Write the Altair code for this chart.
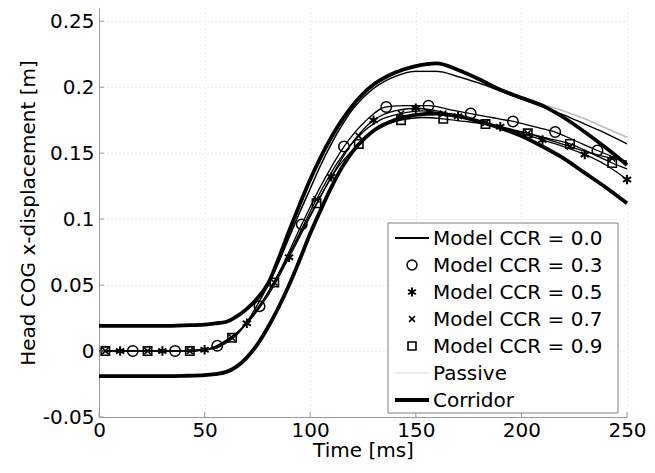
import altair as alt
import pandas as pd

# ---------------- data ----------------
T_GRID = [0, 10, 20, 30, 40, 50, 55, 60, 65, 70, 75, 80, 85, 90, 95, 100, 105, 110,
          115, 120, 125, 130, 140, 150, 160, 170, 180, 190, 200, 210, 220, 230, 240, 250]

CORR_UPPER = [0.019, 0.019, 0.019, 0.019, 0.0195, 0.020, 0.021, 0.022, 0.026, 0.032, 0.040,
              0.051, 0.070, 0.091, 0.111, 0.130, 0.147, 0.162, 0.175, 0.186, 0.195, 0.202,
              0.211, 0.216, 0.218, 0.213, 0.206, 0.198, 0.192, 0.186, 0.177, 0.166, 0.154, 0.141]
CORR_LOWER = [-0.019, -0.019, -0.019, -0.019, -0.0188, -0.0183, -0.0175, -0.016, -0.012,
              -0.005, 0.005, 0.018, 0.033, 0.050, 0.069, 0.089, 0.107, 0.124, 0.139, 0.151,
              0.160, 0.167, 0.175, 0.179, 0.180, 0.178, 0.174, 0.169, 0.163, 0.155, 0.146,
              0.135, 0.124, 0.112]
CCR00 = [0, 0, 0, 0, 0, 0.001, 0.002, 0.006, 0.012, 0.022, 0.035, 0.050, 0.067, 0.086, 0.105,
         0.123, 0.141, 0.157, 0.171, 0.183, 0.192, 0.199, 0.208, 0.212, 0.212, 0.208, 0.203,
         0.197, 0.191, 0.185, 0.179, 0.172, 0.165, 0.157]
PASSIVE = [0, 0, 0, 0, 0, 0.001, 0.002, 0.006, 0.012, 0.022, 0.035, 0.050, 0.067, 0.086, 0.105,
           0.123, 0.141, 0.157, 0.171, 0.183, 0.192, 0.199, 0.208, 0.212, 0.212, 0.208, 0.203,
           0.198, 0.192, 0.187, 0.182, 0.176, 0.169, 0.162]

T_03 = [0, 16, 36, 50, 56, 63, 70, 76, 86, 96, 106, 116, 126, 136, 146, 156, 166, 176, 186,
        196, 206, 216, 226, 236, 250]
Y_03 = [0, 0, 0, 0.001, 0.004, 0.011, 0.021, 0.034, 0.062, 0.096, 0.128, 0.155, 0.174, 0.185,
        0.186, 0.186, 0.183, 0.180, 0.177, 0.174, 0.170, 0.166, 0.159, 0.152, 0.143]
M_03 = [16, 36, 56, 76, 96, 116, 136, 156, 176, 196, 216, 236]

T_05 = [0, 10, 30, 50, 60, 70, 80, 90, 100, 110, 120, 130, 140, 150, 160, 170, 180, 190, 200,
        210, 220, 230, 240, 250]
Y_05 = [0, 0, 0, 0.001, 0.008, 0.021, 0.042, 0.071, 0.102, 0.132, 0.158, 0.175, 0.182, 0.184,
        0.182, 0.178, 0.174, 0.170, 0.165, 0.160, 0.155, 0.149, 0.141, 0.130]
M_05 = [10, 30, 50, 70, 90, 110, 130, 150, 170, 190, 210, 230, 250]

T_07 = [0, 3, 23, 43, 55, 63, 73, 83, 93, 103, 113, 123, 133, 143, 153, 163, 173, 183, 193,
        203, 213, 223, 233, 243, 250]
Y_07 = [0, 0, 0, 0, 0.003, 0.010, 0.027, 0.052, 0.083, 0.115, 0.143, 0.163, 0.175, 0.180,
        0.182, 0.180, 0.177, 0.173, 0.169, 0.165, 0.160, 0.155, 0.150, 0.146, 0.144]
M_07 = [3, 23, 43, 63, 83, 103, 123, 143, 163, 183, 203, 223, 243]

T_09 = [0, 3, 23, 43, 55, 63, 73, 83, 93, 103, 113, 123, 133, 143, 153, 163, 173, 183, 193,
        203, 213, 223, 233, 243, 250]
Y_09 = [0, 0, 0, 0, 0.003, 0.010, 0.028, 0.052, 0.082, 0.112, 0.139, 0.157, 0.170, 0.175,
        0.177, 0.176, 0.174, 0.172, 0.168, 0.165, 0.161, 0.157, 0.150, 0.1425, 0.138]
M_09 = [3, 23, 43, 63, 83, 103, 123, 143, 163, 183, 203, 223, 243]

X_TICKS = [0, 50, 100, 150, 200, 250]
Y_TICKS = [-0.05, 0, 0.05, 0.1, 0.15, 0.2, 0.25]

LEGEND_LABELS = ["Model CCR = 0.0", "Model CCR = 0.3", "Model CCR = 0.5",
                 "Model CCR = 0.7", "Model CCR = 0.9", "Passive", "Corridor"]

# ---------------- styling ----------------
FONT = "DejaVu Sans"
W, H = 528, 409
ASTERISK = "M0,-1L0,1M-0.87,-0.5L0.87,0.5M-0.87,0.5L0.87,-0.5"
XSHAPE = "M-0.8,-0.8L0.8,0.8M-0.8,0.8L0.8,-0.8"


def frame(ts, ys, name):
    return pd.DataFrame({"t": ts, "y": ys, "s": name})


def xenc(field="t"):
    return alt.X(f"{field}:Q", scale=alt.Scale(domain=[0, 250], nice=False),
                 axis=alt.Axis(values=X_TICKS, title="Time [ms]", labelFlush=False))


def yenc(field="y"):
    return alt.Y(f"{field}:Q", scale=alt.Scale(domain=[-0.05, 0.26], nice=False),
                 axis=alt.Axis(values=Y_TICKS, title="Head COG x-displacement [m]",
                               labelExpr="toString(round(datum.value*100)/100)"))


corr_df = pd.concat([frame(T_GRID, CORR_UPPER, "upper"), frame(T_GRID, CORR_LOWER, "lower")])
ccr0_df = frame(T_GRID, CCR00, "ccr00")
pas_df = frame(T_GRID, PASSIVE, "passive")
models = [(T_03, Y_03, M_03, "0.3"), (T_05, Y_05, M_05, "0.5"),
          (T_07, Y_07, M_07, "0.7"), (T_09, Y_09, M_09, "0.9")]
model_df = pd.concat([frame(t, y, n) for t, y, m, n in models])

passive = alt.Chart(pas_df).mark_line(color="#bdbdbd", strokeWidth=1.6, interpolate="monotone").encode(
    x=xenc(), y=yenc())
corridor = alt.Chart(corr_df).mark_line(color="black", strokeWidth=3.8, interpolate="monotone").encode(
    x=xenc(), y=yenc(), detail="s:N")
ccr0 = alt.Chart(ccr0_df).mark_line(color="black", strokeWidth=1.4, interpolate="monotone").encode(
    x=xenc(), y=yenc())
model_lines = alt.Chart(model_df).mark_line(color="black", strokeWidth=1.3, interpolate="monotone").encode(
    x=xenc(), y=yenc(), detail="s:N")

shape_spec = {"0.3": ("circle", 110, 1.5), "0.5": (ASTERISK, 90, 2.0),
              "0.7": (XSHAPE, 60, 1.6), "0.9": ("square", 70, 1.6)}
marker_layers = []
for t, y, m, n in models:
    d = frame(t, y, n)
    d = d[d["t"].isin(m)]
    shp, sz, sw = shape_spec[n]
    marker_layers.append(
        alt.Chart(d).mark_point(shape=shp, size=sz, filled=False, color="black",
                                strokeWidth=sw, opacity=1).encode(x=xenc(), y=yenc()))

xt_df = pd.DataFrame({"v": X_TICKS})
yt_df = pd.DataFrame({"v": Y_TICKS})
xticks = alt.Chart(xt_df).mark_rule(color="#999999").encode(
    x=xenc("v"), y=alt.value(H), y2=alt.value(H - 5))
yticks = alt.Chart(yt_df).mark_rule(color="#999999").encode(
    y=yenc("v"), x=alt.value(0), x2=alt.value(5))

# ---------------- legend ----------------
one = pd.DataFrame({"a": [0]})
LX0, LX1, LY0, LY1 = 289, 519, 215, 405
legend_layers = [alt.Chart(one).mark_rect(fill="white", stroke="#808080", strokeWidth=1).encode(
    x=alt.value(LX0), x2=alt.value(LX1), y=alt.value(LY0), y2=alt.value(LY1))]
row_y = [230 + 27 * i for i in range(len(LEGEND_LABELS))]
for i, lab in enumerate(LEGEND_LABELS):
    yy = row_y[i]
    legend_layers.append(alt.Chart(one).mark_text(
        text=lab, font=FONT, fontSize=20, align="left", baseline="middle", color="black").encode(
        x=alt.value(334), y=alt.value(yy + 1)))
legend_layers.append(alt.Chart(one).mark_rule(color="black", strokeWidth=2).encode(
    x=alt.value(296), x2=alt.value(330), y=alt.value(row_y[0])))
legend_layers.append(alt.Chart(one).mark_rule(color="#e6e6e6", strokeWidth=1.5).encode(
    x=alt.value(296), x2=alt.value(330), y=alt.value(row_y[5])))
legend_layers.append(alt.Chart(one).mark_rule(color="black", strokeWidth=4).encode(
    x=alt.value(296), x2=alt.value(330), y=alt.value(row_y[6])))
for i, n in enumerate(["0.3", "0.5", "0.7", "0.9"]):
    shp, sz, sw = shape_spec[n]
    legend_layers.append(alt.Chart(one).mark_point(
        shape=shp, size=sz * 0.9, filled=False, color="black", strokeWidth=sw, opacity=1).encode(
        x=alt.value(313), y=alt.value(row_y[i + 1])))

chart = alt.layer(
    passive, corridor, ccr0, model_lines, *marker_layers, xticks, yticks, *legend_layers
).properties(
    width=W, height=H,
    autosize=alt.AutoSizeParams(type="none"),
    padding={"left": 91, "top": 0, "right": 20, "bottom": 48},
).configure_view(stroke=None).configure_axis(
    labelFont=FONT, labelFontSize=20, labelColor="black",
    titleFont=FONT, titleFontSize=20, titleFontWeight="normal", titleColor="black",
    domainColor="#999999", ticks=False, labelPadding=5,
    grid=True, gridColor="#d8d8d8", gridDash=[1, 3], gridWidth=1,
).configure_axisX(titlePadding=0, labelPadding=3).configure_axisY(titlePadding=4)

chart.save("out.html", embed_options={"renderer": "svg", "actions": False})
